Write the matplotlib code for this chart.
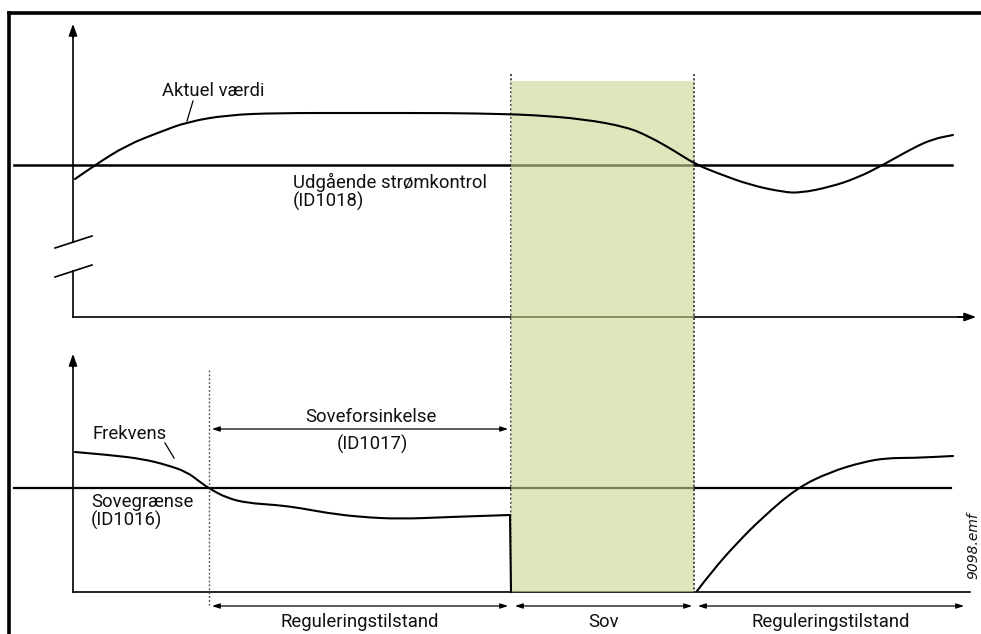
import matplotlib
matplotlib.use("Agg")
import matplotlib.pyplot as plt
from matplotlib.patches import Rectangle, PathPatch
from matplotlib.path import Path

# ---- data (diagram units: pixels, y grows downward) ----
aktuel_x = [75, 95, 127, 160, 187, 227, 277, 360, 450, 500, 533, 583, 627, 650, 673,
            695, 717, 750, 783, 800, 830, 857, 883, 913, 933, 953]
aktuel_y = [179, 165, 145, 132, 122, 115, 113, 113, 113, 114, 115, 119, 127, 137, 150,
            164, 173, 185, 192, 193, 187, 178, 165, 148, 139, 135]

frekvens_x = [75, 110, 143, 167, 187, 200, 210, 227, 247, 277, 300, 327, 360, 400, 450, 480, 510]
frekvens_y = [452, 455, 459, 465, 472, 482, 489, 498, 503, 505, 508, 513, 517, 519, 517, 516, 515]

opstart_x = [697, 713, 737, 763, 797, 830, 863, 887, 913, 953]
opstart_y = [591, 570, 543, 517, 488, 472, 462, 458, 458, 456]

graense_top = 165      # Udgående strømkontrol
graense_bund = 488     # Sovegrænse

sov_start, sov_slut = 511, 694
forsinkelse_start = 209

faser = ["Reguleringstilstand", "Sov", "Reguleringstilstand"]
fase_graenser = [(212, 508), (515, 692), (698, 964)]

W, H = 981, 634
fig = plt.figure(figsize=(W / 100, H / 100), dpi=100)
ax = fig.add_axes([0, 0, 1, 1])
ax.set_xlim(0, W)
ax.set_ylim(H, 0)
ax.axis("off")

FONT = "Roboto"
FS = 13.3
K = "black"


def glat_kurve(xs, ys, **kw):
    """Draw a smooth quadratic-Bezier path through the given points."""
    pts = list(zip(xs, ys))
    verts = [pts[0]]
    codes = [Path.MOVETO]
    for i in range(1, len(pts) - 1):
        mid = ((pts[i][0] + pts[i + 1][0]) / 2, (pts[i][1] + pts[i + 1][1]) / 2)
        verts += [pts[i], mid]
        codes += [Path.CURVE3, Path.CURVE3]
    verts.append(pts[-1])
    codes.append(Path.LINETO)
    ax.add_patch(PathPatch(Path(verts, codes), facecolor="none", edgecolor=K,
                           capstyle="round", joinstyle="round", **kw))


# outer frame (top and left edges)
ax.plot([9, W + 5], [13, 13], color=K, lw=2.6, solid_capstyle="projecting")
ax.plot([9, 9], [13, H + 5], color=K, lw=2.6, solid_capstyle="projecting")

# ---- axes ----
ax_lw = 1.2
pil = dict(arrowstyle="-|>,head_length=0.7,head_width=0.25", color=K, lw=ax_lw)
# upper panel y-axis with break
ax.plot([73, 73], [30, 242], color=K, lw=ax_lw)
ax.plot([73, 73], [271, 317], color=K, lw=ax_lw)
ax.annotate("", xy=(73, 21), xytext=(73, 40), arrowprops=pil)
ax.plot([55, 92], [248, 236], color=K, lw=ax_lw)
ax.plot([55, 92], [277, 265], color=K, lw=ax_lw)
# upper x-axis
ax.plot([73, 965], [317, 317], color=K, lw=ax_lw)
ax.annotate("", xy=(979, 317), xytext=(955, 317), arrowprops=pil)
# lower panel axes
ax.plot([73, 73], [360, 592], color=K, lw=ax_lw)
ax.annotate("", xy=(73, 351), xytext=(73, 370), arrowprops=pil)
ax.plot([73, 970], [592, 592], color=K, lw=ax_lw)

# threshold lines
ax.plot([14, 952], [graense_top, graense_top], color=K, lw=1.8)
ax.plot([14, 951], [graense_bund, graense_bund], color=K, lw=1.6)

# dotted markers
dot = dict(color="#222222", lw=1.1, ls=(0, (1.4, 1.4)))
ax.plot([sov_start, sov_start], [74, 592], **dot)
ax.plot([forsinkelse_start, forsinkelse_start], [370, 605], color="#555555", lw=1.0,
        ls=(0, (1.4, 1.4)))

# sleep band
ax.add_patch(Rectangle((sov_start, 81), sov_slut - sov_start, 592 - 81,
                       facecolor="#c9d88e", alpha=0.6, edgecolor="none", zorder=3))
ax.plot([sov_slut, sov_slut], [74, 592], zorder=4, **dot)

# curves
glat_kurve(aktuel_x, aktuel_y, lw=1.5, zorder=5)
glat_kurve(frekvens_x, frekvens_y, lw=1.5, zorder=5)
ax.plot([frekvens_x[-1], sov_start], [frekvens_y[-1], 592], color=K, lw=1.5, zorder=5)
glat_kurve(opstart_x, opstart_y, lw=1.5, zorder=5)

# ---- labels ----
txt = dict(fontfamily=FONT, fontsize=FS, color="#111111")
ax.text(162, 96, "Aktuel værdi", ha="left", va="baseline", **txt)
ax.plot([193, 187], [101, 121], color=K, lw=0.9)
ax.text(293, 188, "Udgående strømkontrol", ha="left", va="baseline", **txt)
ax.text(293, 207, "(ID1018)", ha="left", va="baseline", **txt)

ax.text(92, 439, "Frekvens", ha="left", va="baseline", **txt)
ax.plot([165, 174], [443, 458], color=K, lw=0.9)
ax.text(91, 507, "Sovegrænse", ha="left", va="baseline", **txt)
ax.text(91, 526, "(ID1016)", ha="left", va="baseline", **txt)

# sleep delay dimension
arr = dict(arrowstyle="<|-|>,head_length=0.45,head_width=0.15", color=K, lw=0.9,
           shrinkA=0, shrinkB=0)
ax.annotate("", xy=(212, 429), xytext=(508, 429), arrowprops=arr)
ax.text(371, 422, "Soveforsinkelse", ha="center", va="baseline", **txt)
ax.text(372, 450, "(ID1017)", ha="center", va="baseline", **txt)

# state phases along the bottom
for navn, (a, b) in zip(faser, fase_graenser):
    ax.annotate("", xy=(a, 606), xytext=(b, 606), arrowprops=arr)
    ax.text((a + b) / 2, 627, navn, ha="center", va="baseline", **txt)

ax.text(973, 546, "9098.emf", rotation=90, ha="center", va="center",
        fontfamily="DejaVu Sans", fontstyle="italic", fontsize=10, color="#111111")

fig.savefig("out.png", dpi=100)
